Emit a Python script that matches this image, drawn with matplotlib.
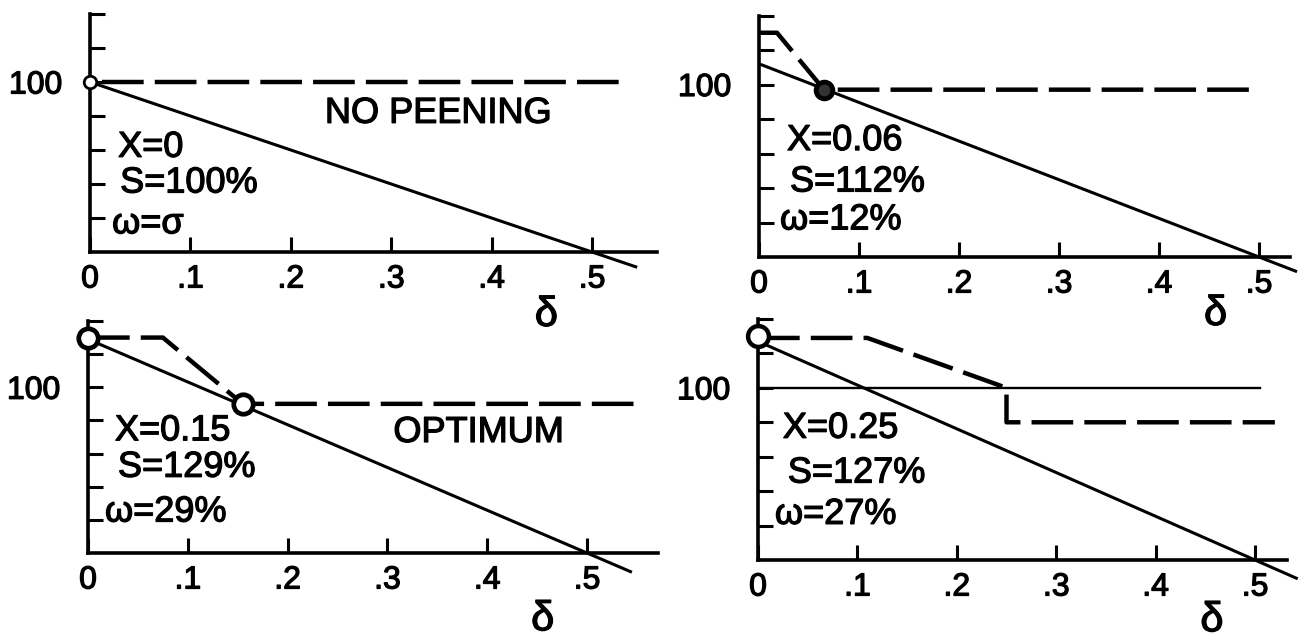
import matplotlib
matplotlib.use("Agg")
import matplotlib.pyplot as plt
import matplotlib.patheffects as pe

plt.rcParams['font.family'] = ['Liberation Sans', 'DejaVu Sans']
plt.rcParams['lines.scale_dashes'] = False

# ---------------- data ----------------
x_ticks = [0, 0.1, 0.2, 0.3, 0.4, 0.5]
x_tick_labels = ['0', '.1', '.2', '.3', '.4', '.5']
y_ticks = [20, 40, 60, 80, 100, 120, 140]
y_tick_labels = ['', '', '', '', '100', '', '']

# solid diagonal: starts at S (percent) at delta=0, reaches 0 at delta=0.5
solid_x = [0.0, 0.5]
S_values = [100, 112, 129, 127]
solid_ext = [0.545, 0.538, 0.545, 0.543]   # where the solid line stops below the axis

# dashed strength curves
dash_x = [
    [0.012, 0.535],
    [0.0, 0.018, 0.065, 0.50],
    [0.0, 0.075, 0.155, 0.55],
    [0.0, 0.11, 0.25, 0.25, 0.52],
]
dash_y = [
    [100, 100],
    [130, 130, 97, 97],
    [130, 130, 90, 90],
    [129, 129, 100, 80, 80],
]
# circle markers
circle_x = [[0.0], [0.065], [0.0, 0.155], [0.0]]
circle_y = [[100], [97], [130, 90], [130]]

# reference line at 100 (last panel only)
ref_x = [0.0, 0.505]
ref_y = [100, 100]

labels_X = ['X=0', 'X=0.06', 'X=0.15', 'X=0.25']
labels_S = ['S=100%', 'S=112%', 'S=129%', 'S=127%']
labels_w = ['ω=σ', 'ω=12%', 'ω=29%', 'ω=27%']
titles = ['NO PEENING', '', 'OPTIMUM', '']

# ---------------- layout (pixels) ----------------
W, H = 1305, 643
fig = plt.figure(figsize=(W / 100, H / 100), dpi=100)
fig.patch.set_facecolor('white')

# x0 px, px per unit delta, y bottom px, y top px, xmax
layout = [
    (90, 1004, 252, 14, 0.565),
    (759, 1000, 257, 15.5, 0.531),
    (88, 998, 553, 321, 0.571),
    (758, 994, 560, 319, 0.532),
]
# text anchor positions (delta, value baseline) per panel
txt_pos = [
    [(0.028, 56), (0.030, 35), (0.022, 11)],
    [(0.028, 62), (0.031, 38), (0.021, 16)],
    [(0.027, 68), (0.030, 46), (0.017, 19)],
    [(0.025, 71), (0.030, 45), (0.017, 21)],
]
title_pos = [(0.234, 76), None, (0.306, 67), None]
delta_pos = [(0.443, -37), (0.445, -33), (0.444, -40), (0.445, -35)]
circle_style = [
    dict(ms=9, mew=2.0, mfc='white'),
    dict(ms=12, mew=3.5, mfc='#333333'),
    dict(ms=14, mew=3.4, mfc='white'),
    dict(ms=15, mew=3.2, mfc='white'),
]

FS = 26
FS_TICK = 23
LW_AX = 2.6
thick = [pe.withStroke(linewidth=0.9, foreground='black')]

for i in range(4):
    x0, ppu, yb, yt, xmax = layout[i]
    left = x0 / W
    bottom = 1 - yb / H
    width = xmax * ppu / W
    height = (yb - yt) / H
    ax = fig.add_axes([left, bottom, width, height])
    ax.set_xlim(0, xmax)
    ax.set_ylim(0, 140)
    ax.patch.set_alpha(0)
    for s in ['top', 'right']:
        ax.spines[s].set_visible(False)
    for s in ['left', 'bottom']:
        ax.spines[s].set_linewidth(LW_AX)
        ax.spines[s].set_capstyle('projecting')
    ax.set_xticks(x_ticks)
    ax.set_xticklabels(x_tick_labels)
    ax.set_yticks(y_ticks)
    ax.set_yticklabels(y_tick_labels)
    ax.tick_params(axis='x', direction='in', length=11, width=2.2, pad=9,
                   labelsize=FS_TICK)
    ax.tick_params(axis='y', direction='in', length=11, width=2.2, pad=20,
                   labelsize=FS_TICK)
    for lab in ax.get_xticklabels() + ax.get_yticklabels():
        lab.set_path_effects(thick)
    if i == 0:
        ax.set_yticks([100], minor=True)
        ax.tick_params(axis='y', which='minor', direction='out', length=9,
                       width=2.0)

    S = S_values[i]
    sx = solid_x + [solid_ext[i]]
    sy = [S, 0, -S / 0.5 * (solid_ext[i] - 0.5)]
    ax.plot(sx, sy, color='black', lw=2.2, clip_on=False, zorder=3,
            solid_capstyle='butt')

    ax.plot(dash_x[i], dash_y[i], color='black', lw=3.2, clip_on=False,
            dashes=(30, 8), zorder=3, dash_capstyle='butt')

    if i == 3:
        ax.plot(ref_x, ref_y, color='black', lw=1.7, clip_on=False, zorder=3)

    ax.plot(circle_x[i], circle_y[i], 'o', color='black',
            clip_on=False, zorder=5, **circle_style[i])

    for (px, py), t in zip(txt_pos[i], [labels_X[i], labels_S[i], labels_w[i]]):
        ax.text(px, py, t, fontsize=FS, va='baseline', ha='left', zorder=6,
                path_effects=thick)
    if titles[i]:
        tx, ty = title_pos[i]
        ax.text(tx, ty, titles[i], fontsize=FS, va='baseline', ha='left',
                path_effects=thick)
    dx, dy = delta_pos[i]
    ax.text(dx, dy, 'δ', fontsize=30, va='center', ha='left', clip_on=False,
            path_effects=thick)

fig.savefig('out.png', dpi=100, facecolor='white')
